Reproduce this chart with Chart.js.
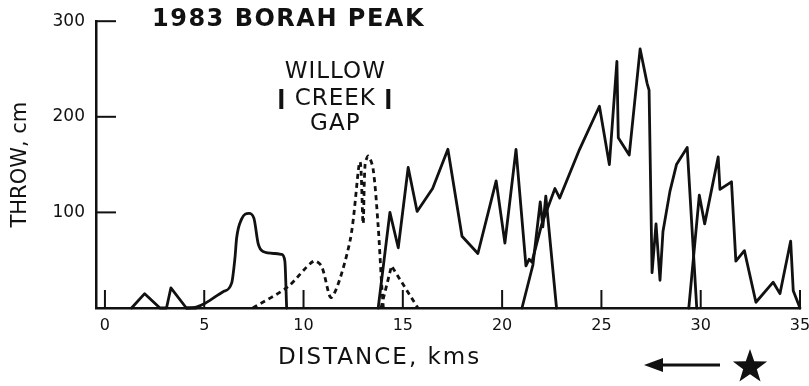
<!DOCTYPE html>
<html>
<head>
<meta charset="utf-8">
<title>1983 Borah Peak</title>
<script src="https://cdn.jsdelivr.net/npm/chart.js@4.4.1/dist/chart.umd.min.js"></script>
<style>
  html, body { margin: 0; padding: 0; background: #fff; }
  #wrap { width: 809px; height: 386px; position: relative; }
</style>
</head>
<body>
<div id="wrap"><canvas id="throwChart"></canvas></div>
<script>
const xTicks = [0, 5, 10, 15, 20, 25, 30, 35];
const yTicks = [100, 200, 300];

// km along the fault / throw in cm, one pair of arrays per traced line
const seg1Km = [1.34, 2.0, 2.77, 3.1, 3.32, 4.1, 4.6];
const seg1Throw = [0, 15, 0, 0, 21, 0, 0];

const seg2Km = [4.1, 4.6, 5.05, 5.95, 6.38, 6.55, 6.63, 6.88, 7.25, 7.5, 7.72, 7.96, 8.56, 8.9, 9.06, 9.15];
const seg2Throw = [0, 1, 5, 17, 26, 53, 73, 93, 99, 94, 67, 59, 57, 56, 49, 0];

// dashed: across the gap
const gapKm = [7.45, 9.2, 10.5, 10.9, 11.41, 12.34, 12.84, 13.0, 13.1, 13.26, 13.5, 13.75, 13.93, 14.02];
const gapThrow = [0, 22, 49, 44, 11, 70, 153, 88, 150, 159, 146, 88, 26, 0];
const gap2Km = [13.9, 14.43, 15.76];
const gap2Throw = [0, 44, 0];

const mainKm = [13.76, 14.35, 14.77, 15.27, 15.72, 16.5, 17.27, 17.98, 18.78, 19.7, 20.14, 20.7,
  21.2, 21.36, 21.5, 22.0, 22.66, 22.9, 23.9, 24.9, 25.4, 25.78, 25.85, 26.4, 26.95, 27.3, 27.4,
  27.55, 27.75, 27.95, 28.1, 28.45, 28.78, 29.32, 29.8];
const mainThrow = [0, 100, 63, 147, 101, 125, 166, 75, 57, 133, 68, 166,
  44, 51, 48, 88, 125, 115, 166, 211, 150, 258, 178, 160, 271, 235, 228,
  37, 88, 29, 80, 122, 150, 168, 0];

const spikeKm = [21.0, 21.55, 21.92, 22.05, 22.2, 22.74];
const spikeThrow = [0, 45, 111, 85, 117, 0];

const eastKm = [29.4, 29.93, 30.2, 30.88, 30.97, 31.55, 31.77, 32.2, 32.78, 33.65, 33.99, 34.53, 34.66, 35];
const eastThrow = [0, 118, 88, 158, 124, 132, 49, 60, 6, 27, 15, 70, 18, 0];

const ink = '#111';
const font = '"DejaVu Sans", sans-serif';

const pts = (xs, ys) => xs.map((x, i) => ({ x, y: ys[i] }));

const line = (xs, ys, extra) => Object.assign({
  data: pts(xs, ys),
  borderColor: ink,
  borderWidth: 2.8,
  pointRadius: 0,
  tension: 0,
  clip: false,
  borderJoinStyle: 'round',
  borderCapStyle: 'round',
}, extra);

// tick marks, headings, the gap label, arrow and star
const decorations = {
  id: 'decorations',
  afterDraw(chart) {
    const ctx = chart.ctx;
    const xs = chart.scales.x;
    const ys = chart.scales.y;
    const area = chart.chartArea;
    ctx.save();
    ctx.strokeStyle = ink;
    ctx.fillStyle = ink;
    ctx.lineWidth = 2;

    // inward ticks
    yTicks.forEach(v => {
      const y = ys.getPixelForValue(v);
      ctx.beginPath();
      ctx.moveTo(area.left, y);
      ctx.lineTo(area.left + 20, y);
      ctx.stroke();
    });
    xTicks.forEach(v => {
      const x = xs.getPixelForValue(v);
      ctx.beginPath();
      ctx.moveTo(x, area.bottom);
      ctx.lineTo(x, area.bottom - 18);
      ctx.stroke();
    });

    ctx.textBaseline = 'middle';
    ctx.textAlign = 'left';
    ctx.letterSpacing = '1.5px';
    ctx.font = 'bold 24px ' + font;
    ctx.fillText('1983 BORAH PEAK', 152, 20);

    ctx.letterSpacing = '2px';
    ctx.font = '23px ' + font;
    ctx.fillText('DISTANCE, kms', 278, 358);

    // WILLOW CREEK GAP
    const cx = xs.getPixelForValue(11.6);
    ctx.letterSpacing = '1px';
    ctx.textAlign = 'center';
    ctx.font = '23px ' + font;
    ctx.fillText('WILLOW', cx, 72);
    ctx.fillText('CREEK', cx, 99);
    ctx.fillText('GAP', cx, 124);
    ctx.lineWidth = 4;
    [cx - 54, cx + 53].forEach(bx => {
      ctx.beginPath();
      ctx.moveTo(bx, 89);
      ctx.lineTo(bx, 109);
      ctx.stroke();
    });

    // arrow pointing north-west
    ctx.lineWidth = 3;
    ctx.beginPath();
    ctx.moveTo(656, 365);
    ctx.lineTo(720, 365);
    ctx.stroke();
    ctx.beginPath();
    ctx.moveTo(644, 365);
    ctx.lineTo(663, 358);
    ctx.lineTo(663, 372);
    ctx.closePath();
    ctx.fill();

    // epicentre star
    const sx = 750, sy = 367, ro = 18, ri = 7.2;
    ctx.beginPath();
    for (let i = 0; i < 10; i++) {
      const r = i % 2 === 0 ? ro : ri;
      const a = -Math.PI / 2 + i * Math.PI / 5;
      const px = sx + r * Math.cos(a);
      const py = sy + r * Math.sin(a);
      if (i === 0) ctx.moveTo(px, py); else ctx.lineTo(px, py);
    }
    ctx.closePath();
    ctx.fill();
    ctx.restore();
  }
};

const ctx = document.querySelector('#throwChart');
const chart = new Chart(ctx, {
  type: 'line',
  data: {
    datasets: [
      line(seg1Km, seg1Throw),
      line(seg2Km, seg2Throw, { cubicInterpolationMode: 'monotone' }),
      line(gapKm, gapThrow, { borderDash: [5, 4], tension: 0.3, borderCapStyle: 'butt' }),
      line(gap2Km, gap2Throw, { borderDash: [5, 4], borderCapStyle: 'butt' }),
      line(mainKm, mainThrow),
      line(spikeKm, spikeThrow),
      line(eastKm, eastThrow),
    ],
  },
  options: {
    responsive: true,
    maintainAspectRatio: false,
    animation: false,
    layout: { padding: { left: 0, top: 17, right: 9, bottom: 0 } },
    plugins: {
      legend: { display: false },
      tooltip: { enabled: false },
    },
    scales: {
      x: {
        type: 'linear',
        min: -0.45,
        max: 35,
        afterBuildTicks: s => { s.ticks = xTicks.map(v => ({ value: v })); },
        afterFit: s => { s.height = 78; s.paddingLeft = 0; s.paddingRight = 0; },
        grid: { display: false, drawTicks: false },
        border: { display: true, color: ink, width: 2.5 },
        ticks: {
          color: ink,
          font: { family: font, size: 16 },
          padding: 8,
          maxRotation: 0,
          autoSkip: false,
        },
      },
      y: {
        type: 'linear',
        min: 0,
        max: 300,
        afterBuildTicks: s => { s.ticks = yTicks.map(v => ({ value: v })); },
        afterFit: s => { s.width = 96; },
        grid: { display: false, drawTicks: false },
        border: { display: true, color: ink, width: 2.5 },
        ticks: {
          color: ink,
          font: { family: font, size: 17 },
          padding: 11,
        },
        title: {
          display: true,
          text: 'THROW, cm',
          color: ink,
          font: { family: font, size: 21 },
          padding: { top: 8, bottom: 0 },
        },
      },
    },
  },
  plugins: [decorations],
});
</script>
</body>
</html>
